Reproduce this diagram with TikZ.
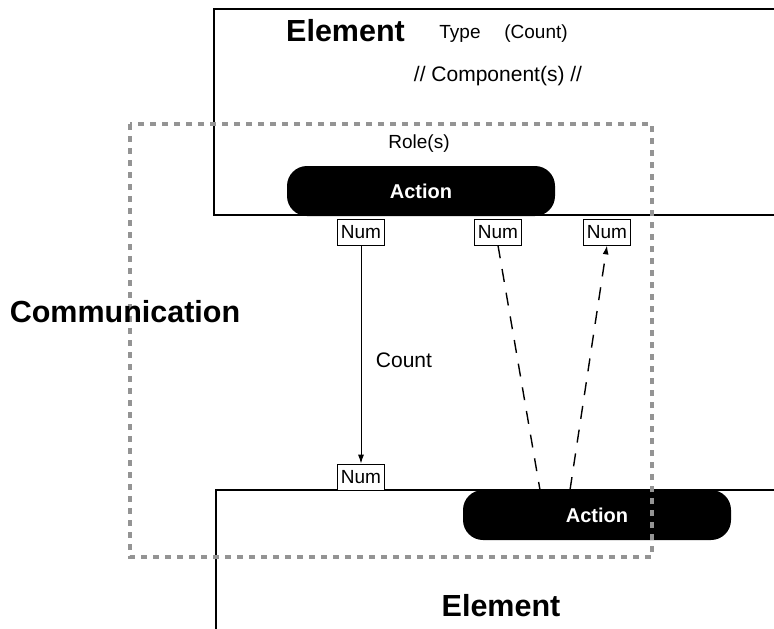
\documentclass[tikz,border=0pt]{standalone}
\usepackage{fontspec}
\setmainfont{Liberation Sans}
\usetikzlibrary{arrows.meta}
\begin{document}
\begin{tikzpicture}[x=1pt,y=-1pt,
  elem/.style={draw=black,line width=2.6pt,fill=white},
  pill/.style={fill=black,rounded corners=20pt,minimum width=268pt,minimum height=50pt,text=white,font=\fontsize{20}{24}\selectfont\bfseries,inner sep=0pt},
  numbox/.style={draw=black,line width=0.8pt,fill=white,font=\fontsize{19}{22}\selectfont,inner sep=0pt,minimum width=47pt,minimum height=26pt},
  big/.style={font=\fontsize{30.5}{34}\selectfont\bfseries},
  small/.style={font=\fontsize{19}{22}\selectfont},
  mid/.style={font=\fontsize{21}{24}\selectfont},
  comm/.style={draw=black!42,line width=4pt,dash pattern=on 6pt off 6pt},
  dline/.style={line width=1.4pt,dash pattern=on 13pt off 11pt}
]
\useasboundingbox (0,0) rectangle (774,629);
\clip (0,0) rectangle (774,629);
\fill[white] (0,0) rectangle (774,629);
% top element
\draw[elem] (214,9) rectangle (790,215);
\node[big,anchor=west,inner sep=0pt] (t1) at (286,31) {Element};
\node[small] (t2) at (460,34) {Type};
\node[small] (t3) at (536,34) {(Count)};
\node[mid] (t4) at (498,76) {// Component(s) //};
\node[small] (role) at (419,144) {Role(s)};
\node[pill] (act1) at (421,191) {Action};
% bottom element
\draw[elem] (216,640) -- (216,490) -- (790,490);
\node[big] (t5) at (501,606) {Element};
\node[pill] (act2) at (597,515) {Action};
% num boxes
\node[numbox] (n1) at (361,232) {Num};
\node[numbox] (n2) at (498,232) {Num};
\node[numbox] (n3) at (607,232) {Num};
\node[numbox] (n4) at (361,477) {Num};
% connectors
\coordinate (e1) at (540,490);
\coordinate (e2) at (570,490);
\draw[line width=1pt,-{Latex[length=9pt,width=6pt]}] (n1) -- (n4);
\node[mid] (cnt) at (404,360) {Count};
\draw[dline] (n2.south) -- (e1);
\draw[dline,-{Latex[length=9pt,width=6pt]}] (e2) -- (n3.south);
% communication area
\draw[comm] (130,124) rectangle (652,557);
\node[big] (com) at (125,312) {Communication};
\end{tikzpicture}
\end{document}
